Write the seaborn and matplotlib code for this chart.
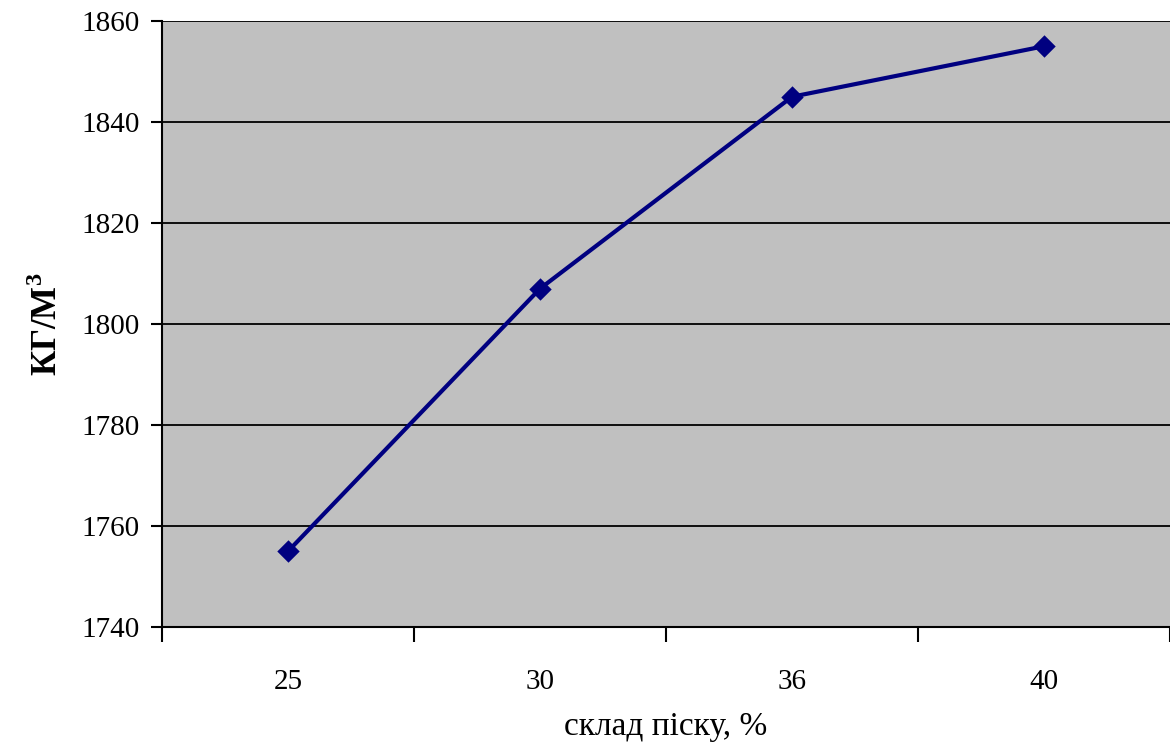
import numpy as np
import pandas as pd
import matplotlib
matplotlib.use('Agg')
import matplotlib.pyplot as plt
import seaborn as sns
from matplotlib.ticker import FixedLocator, NullFormatter, FixedFormatter

# дані з графіка
sand = ['25', '30', '36', '40']
density = [1755, 1807, 1845, 1855]
y_ticks = [1740, 1760, 1780, 1800, 1820, 1840, 1860]

sns.set_style('white')
plt.rcParams['font.family'] = ['Liberation Serif', 'DejaVu Serif']
plt.rcParams['mathtext.fontset'] = 'custom'
plt.rcParams['mathtext.rm'] = 'Liberation Serif'
plt.rcParams['mathtext.bf'] = 'Liberation Serif:bold'
plt.rcParams['text.color'] = 'black'
plt.rcParams['axes.labelcolor'] = 'black'
plt.rcParams['xtick.color'] = 'black'
plt.rcParams['ytick.color'] = 'black'

df = pd.DataFrame({'sand': sand, 'density': density})

fig = plt.figure(figsize=(11.7, 7.45), dpi=100)
ax = fig.add_axes([0.1385, 0.1584, 0.8615, 0.8134])
ax.set_facecolor('#c0c0c0')

sns.pointplot(data=df, x='sand', y='density', ax=ax, color='#000080',
              markers='D', linestyles='-', markersize=9, linewidth=3)

ax.set_xlim(-0.5, len(sand) - 0.5)
ax.set_ylim(1740, 1860)
ax.set_yticks(y_ticks)
ax.grid(axis='y', color='black', linewidth=1.3)
ax.set_axisbelow(True)

# мітки посередині, риски на межах категорій
ax.xaxis.set_major_locator(FixedLocator(np.arange(len(sand) + 1) - 0.5))
ax.xaxis.set_major_formatter(NullFormatter())
ax.xaxis.set_minor_locator(FixedLocator(np.arange(len(sand))))
ax.xaxis.set_minor_formatter(FixedFormatter(sand))
ax.tick_params(axis='x', which='major', length=11, width=1.5, color='black', direction='out', bottom=True)
ax.tick_params(axis='x', which='minor', length=0, labelsize=21, pad=30, labelcolor='black')
ax.tick_params(axis='y', length=8, width=1.5, color='black', direction='out', left=True,
               labelsize=21, pad=8, labelcolor='black')

for s in ['top', 'right']:
    ax.spines[s].set_visible(False)
for s in ['left', 'bottom']:
    ax.spines[s].set_color('black')
    ax.spines[s].set_linewidth(1.5)

ax.set_xlabel('склад піску, %', fontsize=24, labelpad=12, color='black')
ax.set_ylabel(r'КГ/М$^{\mathbf{3}}$', fontsize=25, fontweight='bold', labelpad=12, color='black')

plt.savefig('out.png', dpi=100)
